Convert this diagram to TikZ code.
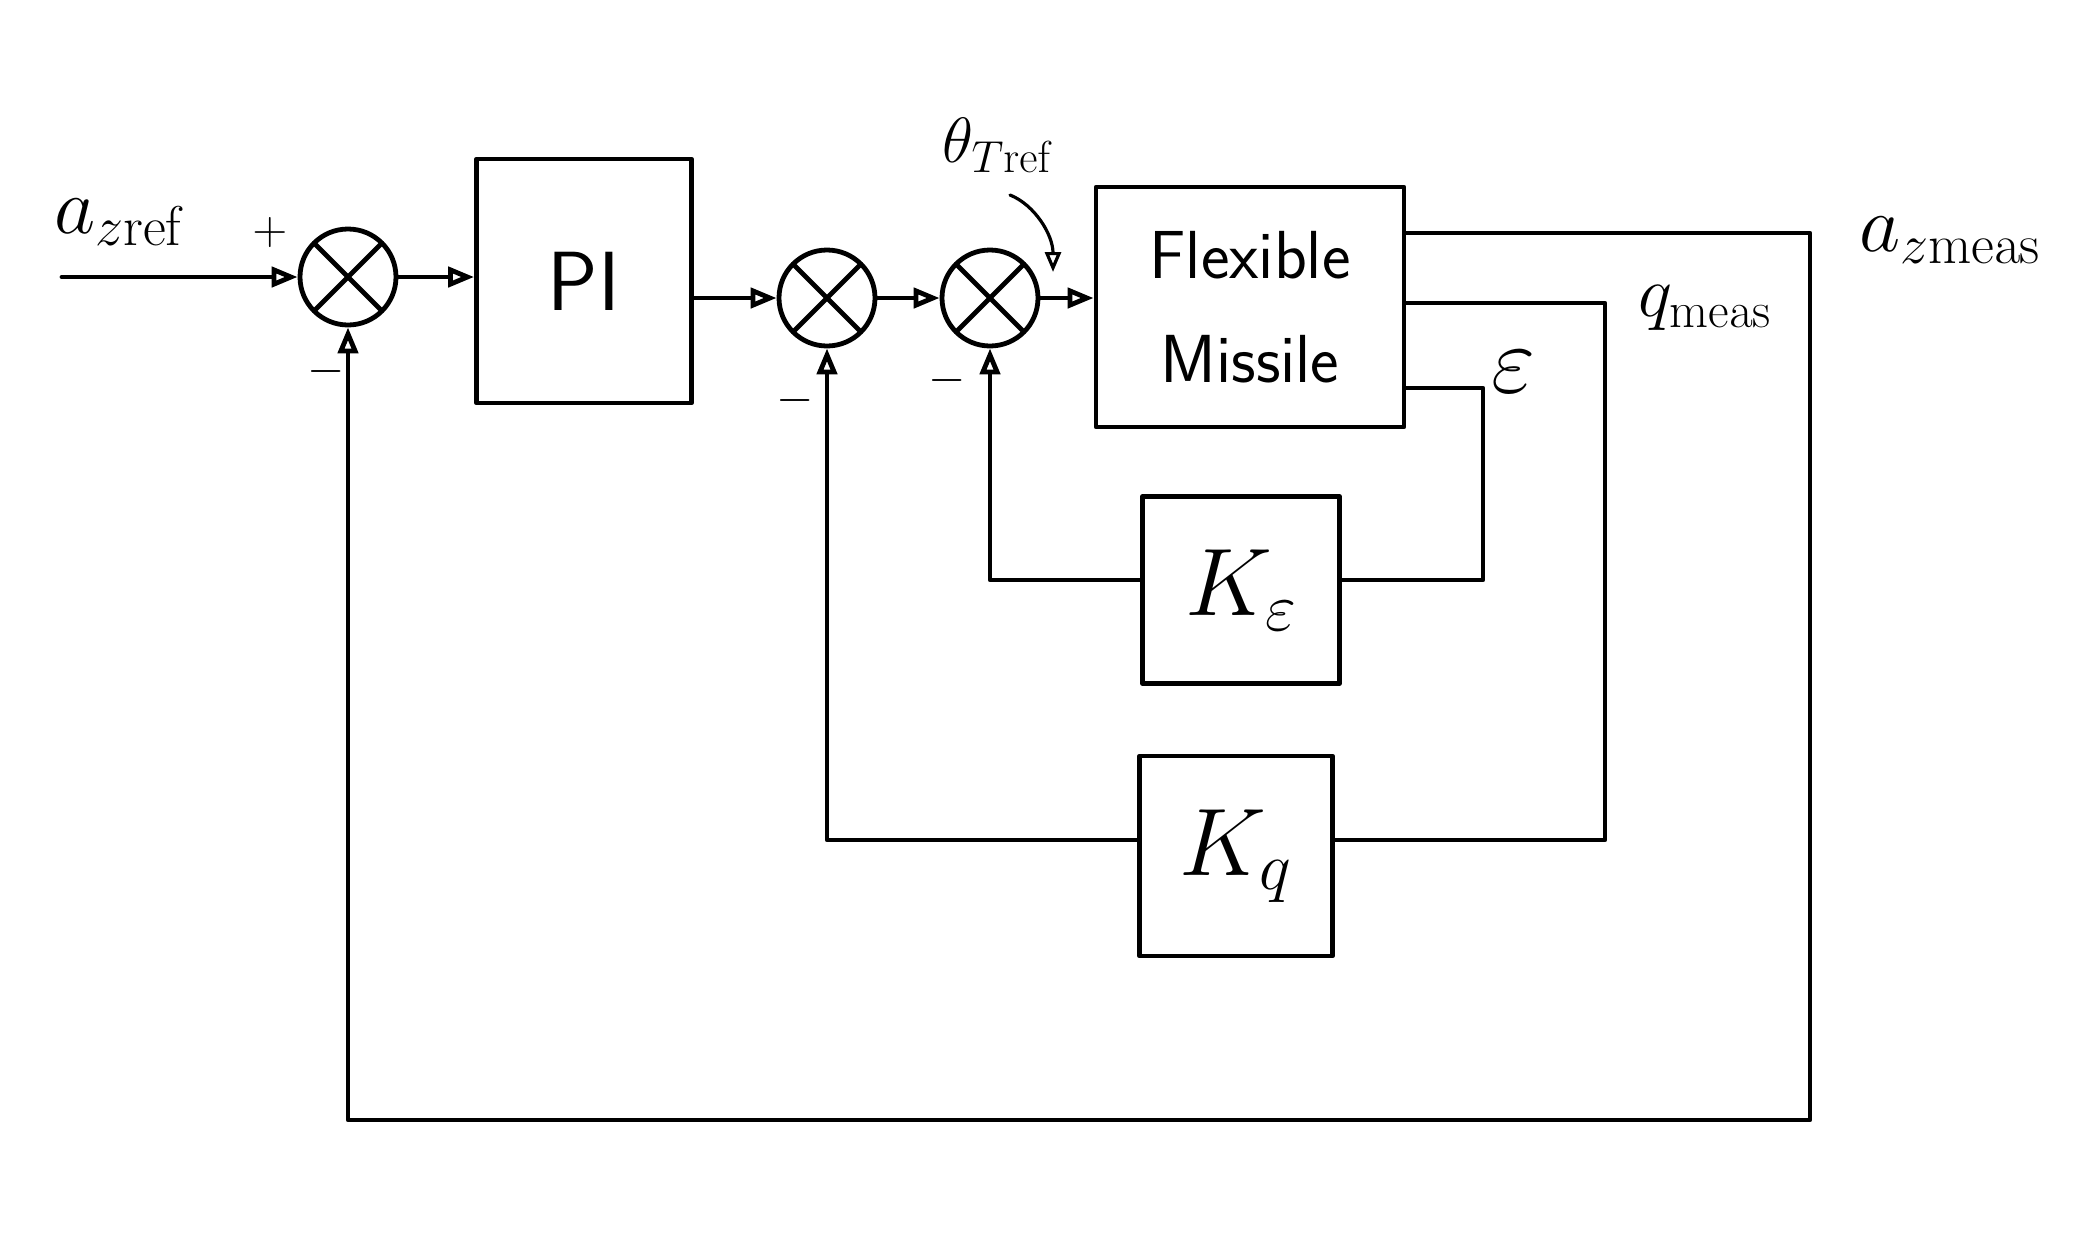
\RequirePackage{fix-cm}
\documentclass[tikz,border=0pt]{standalone}
\usetikzlibrary{arrows.meta}
\begin{document}
\begin{tikzpicture}[x=0.5pt,y=-0.5pt,
  line width=2.4pt, line cap=round, line join=round,
  block/.style={draw, inner sep=0pt, line width=2.4pt},
  sumnode/.style={draw, circle, minimum size=48pt, inner sep=0pt, line width=2.4pt,
    path picture={\draw[line width=2.4pt] (path picture bounding box.north west) -- (path picture bounding box.south east)
      (path picture bounding box.north east) -- (path picture bounding box.south west);}},
  conn/.style={line width=2.4pt, -{Triangle[open,length=13pt,width=10pt]}},
  wire/.style={line width=2.4pt},
  lbl/.style={inner sep=0pt, font=\fontsize{40}{48}\selectfont},
  sgn/.style={inner sep=0pt, font=\fontsize{24}{28}\selectfont}
]
\useasboundingbox (0,0) rectangle (2090,1254);
\fill[white] (0,0) rectangle (2090,1254);

% summing junctions
\node[sumnode] (s1) at (348,277) {};
\node[sumnode] (s2) at (827,298) {};
\node[sumnode] (s3) at (990,298) {};

% blocks
\node[block, minimum width=107.5pt, minimum height=122pt, font=\sffamily\fontsize{42}{50}\selectfont] (pi) at (584,281) {\raisebox{-6pt}{PI}};
\node[block, minimum width=154pt, minimum height=120pt, align=center, font=\sffamily\fontsize{34}{52}\selectfont] (fm) at (1250,307) {Flexible\\Missile};
\node[block, minimum width=98.5pt, minimum height=93.5pt, font=\fontsize{48}{56}\selectfont] (ke) at (1241,590) {$K_\varepsilon$};
\node[block, minimum width=96.5pt, minimum height=100pt, font=\fontsize{48}{56}\selectfont] (kq) at (1236,856) {$K_q$};

% labels
\node[lbl] (azref) at (120,222) {$a_{z\mathrm{ref}}$};
\node[sgn] (plus) at (270,232) {$+$};
\node[sgn] (m1) at (326,371) {$-$};
\node[sgn] (m2) at (795,400) {$-$};
\node[sgn] (m3) at (947,380) {$-$};
\node[lbl, font=\fontsize{32}{38}\selectfont] (th) at (998,145) {$\theta_{T\mathrm{ref}}$};
\node[lbl] (azm) at (1950,240) {$a_{z\mathrm{meas}}$};
\node[lbl, font=\fontsize{36}{42}\selectfont] (qm) at (1705,308) {$q_{\mathrm{meas}}$};
\node[lbl, font=\fontsize{48}{56}\selectfont] (eps) at (1513,372) {$\varepsilon$};

% forward path
\coordinate (in) at (62,277);
\draw[conn] (in) -- (s1.west);
\draw[conn] (s1.east) -- (s1.east -| pi.west);
\draw[conn] (pi.east |- s2.west) -- (s2.west);
\draw[conn] (s2.east) -- (s3.west);
\draw[conn] (s3.east) -- (s3.east -| fm.west);

% theta_Tref pointer
\coordinate (thA) at (1010,195);
\coordinate (thB) at (1053,272);
\draw[line width=1.6pt, -{Triangle[open,length=10pt,width=8pt]}] (thA) .. controls (1035,205) and (1053,235) .. (thB);

% a_z feedback
\draw[conn] (fm.east |- 0,233) -| (1810,1120) -| (s1.south);

% q feedback
\draw[wire] (fm.east |- 0,303) -| (1605,840) -- (kq.east |- 0,840);
\draw[conn] (kq.west |- 0,840) -| (s2.south);

% epsilon feedback
\draw[wire] (fm.east |- 0,388) -| (1483,580) -- (ke.east |- 0,580);
\draw[conn] (ke.west |- 0,580) -| (s3.south);
\end{tikzpicture}
\end{document}
